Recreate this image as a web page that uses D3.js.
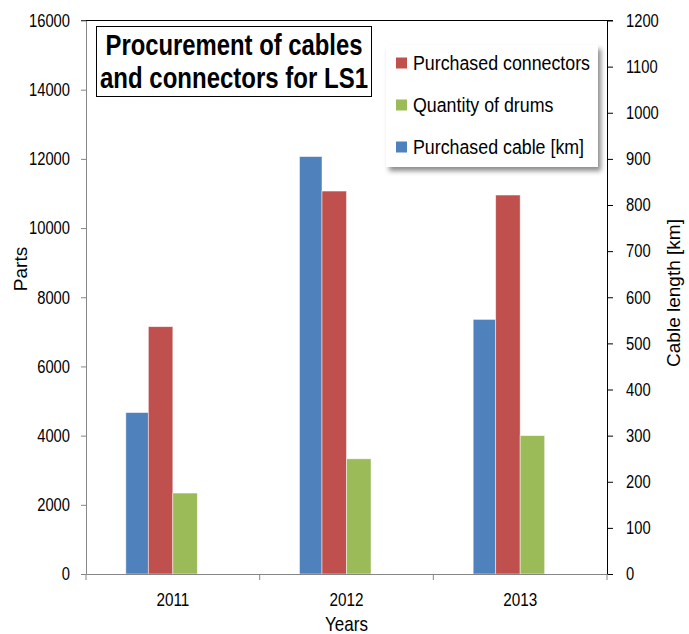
<!DOCTYPE html>
<html>
<head>
<meta charset="utf-8">
<script src="https://cdn.jsdelivr.net/npm/d3@7"></script>
<style>
  html, body { margin: 0; padding: 0; background: #fff; }
  svg { display: block; font-family: "Liberation Sans", Arial, sans-serif; }
</style>
</head>
<body>
<svg id="chart" width="689" height="634"></svg>
<script>
// ---- data ----
const years = ["2011", "2012", "2013"];
const cableKm = [350, 905, 552];          // Purchased cable [km] (right axis)
const connectors = [7150, 11070, 10955];  // Purchased connectors (left axis)
const drums = [2340, 3330, 4000];         // Quantity of drums (left axis)
const leftTicks = [0, 2000, 4000, 6000, 8000, 10000, 12000, 14000, 16000];
const rightTicks = [0, 100, 200, 300, 400, 500, 600, 700, 800, 900, 1000, 1100, 1200];
const legendLabels = ["Purchased connectors", "Quantity of drums", "Purchased cable [km]"];
const titleLines = ["Procurement of cables", "and connectors for LS1"];

// ---- layout ----
const W = 689, H = 634;
const L = 86, R = 607, T = 20.5, B = 574;
const colors = { blue: "#4F81BD", red: "#C0504D", green: "#9BBB59" };

const svg = d3.select("#chart");

const defs = svg.append("defs");
const f = defs.append("filter").attr("id", "shadow").attr("x", "-10%").attr("y", "-10%").attr("width", "130%").attr("height", "140%");
f.append("feDropShadow").attr("dx", 3).attr("dy", 4).attr("stdDeviation", 2.5).attr("flood-color", "#000").attr("flood-opacity", 0.45);

const x = d3.scaleBand().domain(years).range([L, R]).paddingInner(0).paddingOuter(0);
const yL = d3.scaleLinear().domain([0, 16000]).range([B, T]);
const yR = d3.scaleLinear().domain([0, 1200]).range([B, T]);

function squish(sel, k) {
  sel.each(function () {
    const t = d3.select(this);
    const tx = +(t.attr("x") || 0);
    const prev = t.attr("transform") || "";
    t.attr("transform", prev + ` translate(${tx},0) scale(${k},1) translate(${-tx},0)`);
  });
}

// top border line
svg.append("line").attr("x1", L - 5).attr("x2", R + 6).attr("y1", T).attr("y2", T)
  .attr("stroke", "#000").attr("stroke-width", 1);

// bars
const bw = 24.5;
const barData = [];
years.forEach((yr, i) => {
  const c = x(yr) + x.bandwidth() / 2;
  barData.push({ x0: c - 2 * bw + 2, w: bw - 2, y: yR(cableKm[i]), color: colors.blue });
  barData.push({ x0: c - bw, w: bw, y: yL(connectors[i]), color: colors.red });
  barData.push({ x0: c, w: bw, y: yL(drums[i]), color: colors.green });
});
svg.append("g").selectAll("rect").data(barData).join("rect")
  .attr("x", d => d.x0).attr("width", d => d.w)
  .attr("y", d => d.y).attr("height", d => B - d.y)
  .attr("fill", d => d.color)
  .attr("stroke", "#ffffff").attr("stroke-opacity", 0.6).attr("stroke-width", 0.8);

// left axis
const gL = svg.append("g").attr("transform", `translate(${L},0)`)
  .call(d3.axisLeft(yL).tickValues(leftTicks).tickSize(5).tickSizeOuter(0).tickPadding(11).tickFormat(d3.format("d")));
gL.select(".domain").attr("stroke", "#868686");
gL.selectAll(".tick line").attr("stroke", "#868686");
gL.selectAll(".tick text").attr("font-size", 18).attr("fill", "#000").attr("font-family", "Liberation Sans, Arial, sans-serif");
squish(gL.selectAll(".tick text"), 0.82);

// right axis
const gR = svg.append("g").attr("transform", `translate(${R},0)`)
  .call(d3.axisRight(yR).tickValues(rightTicks).tickSize(6).tickSizeOuter(0).tickPadding(13).tickFormat(d3.format("d")));
gR.select(".domain").attr("stroke", "#000");
gR.selectAll(".tick line").attr("stroke", "#000");
gR.selectAll(".tick text").attr("font-size", 18).attr("fill", "#000").attr("font-family", "Liberation Sans, Arial, sans-serif");
squish(gR.selectAll(".tick text"), 0.82);

// x axis
const gX = svg.append("g").attr("transform", `translate(0,${B})`)
  .call(d3.axisBottom(x).tickSize(0).tickPadding(19));
gX.select(".domain").attr("stroke", "#868686");
gX.selectAll(".tick text").attr("font-size", 18).attr("fill", "#000").attr("font-family", "Liberation Sans, Arial, sans-serif");
squish(gX.selectAll(".tick text"), 0.85);
const bounds = years.map(d => x(d)).concat([x(years[years.length - 1]) + x.bandwidth()]);
gX.append("g").selectAll("line").data(bounds).join("line")
  .attr("x1", d => d).attr("x2", d => d).attr("y1", 0).attr("y2", 6)
  .attr("stroke", "#868686");

// axis titles
const yearsT = svg.append("text").attr("x", (L + R) / 2).attr("y", 631).attr("text-anchor", "middle")
  .attr("font-size", 20).text("Years");
squish(yearsT, 0.85);
svg.append("text").attr("transform", "translate(27,269) rotate(-90)").attr("text-anchor", "middle")
  .attr("font-size", 19).text("Parts");
svg.append("text").attr("transform", "translate(680,293) rotate(-90)").attr("text-anchor", "middle")
  .attr("font-size", 19).text("Cable length [km]");

// title box
svg.append("rect").attr("x", 96.5).attr("y", 26.5).attr("width", 275).attr("height", 70)
  .attr("fill", "#fff").attr("stroke", "#000").attr("stroke-width", 1);
const titleLens = [257, 268];
svg.selectAll(".title").data(titleLines).join("text").attr("class", "title")
  .attr("x", 234).attr("y", (d, i) => 55 + i * 33).attr("text-anchor", "middle")
  .attr("font-size", 29).attr("font-weight", "bold")
  .attr("textLength", (d, i) => titleLens[i]).attr("lengthAdjust", "spacingAndGlyphs")
  .text(d => d);

// legend
svg.append("rect").attr("x", 386).attr("y", 45).attr("width", 212).attr("height", 122)
  .attr("fill", "#fff").attr("filter", "url(#shadow)");
const legColors = [colors.red, colors.green, colors.blue];
const lg = svg.append("g");
legendLabels.forEach((lab, i) => {
  const cy = 63 + i * 42;
  lg.append("rect").attr("x", 396).attr("y", cy - 5.5).attr("width", 11).attr("height", 11).attr("fill", legColors[i]);
  const t = lg.append("text").attr("x", 413).attr("y", cy + 7).attr("font-size", 20).text(lab);
  squish(t, 0.89);
});
</script>
</body>
</html>
